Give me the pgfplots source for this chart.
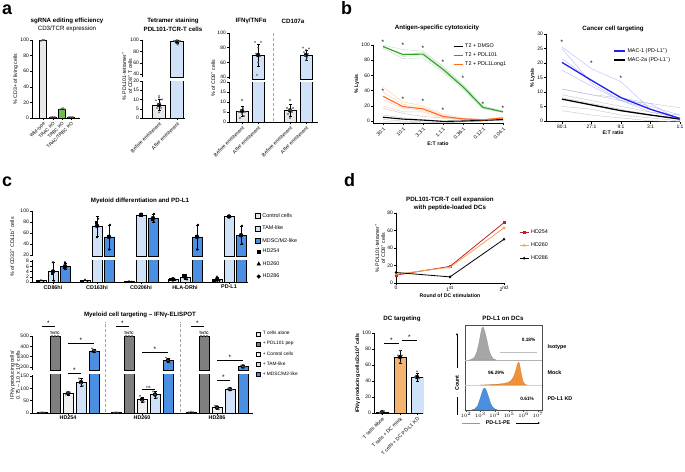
\documentclass[border=0pt]{standalone}
\usepackage{fontspec}
\setmainfont{Liberation Sans}
\usepackage{pgfplots}
\pgfplotsset{compat=1.18}
\usetikzlibrary{arrows.meta}

\newcommand{\tk}{\fontsize{5}{6}\selectfont}
\newcommand{\lab}{\fontsize{5.2}{6}\selectfont}
\newcommand{\ttl}{\fontsize{6.2}{7}\selectfont\bfseries}
\newcommand{\sbt}{\fontsize{6.2}{7}\selectfont}
\newcommand{\pl}{\fontsize{18}{18}\selectfont\bfseries}
\newcommand{\strf}{\fontsize{6.5}{6.5}\selectfont}
\newcommand{\legf}{\fontsize{5.4}{6}\selectfont}

\definecolor{lgrey}{HTML}{E8E8E8}
\definecolor{ltblue}{HTML}{CFE2F7}
\definecolor{mdsc}{HTML}{4B8FE3}
\definecolor{pdl}{HTML}{7F7F7F}
\definecolor{grn}{HTML}{33A02C}
\definecolor{org}{HTML}{FF6A1F}
\definecolor{kogreen}{HTML}{6CC04A}
\definecolor{dred}{HTML}{BE1E2D}
\definecolor{dorg}{HTML}{F5A54A}
\definecolor{mock}{HTML}{F2B46E}
\definecolor{histo}{HTML}{F0913A}
\definecolor{isog}{HTML}{A6A6A6}
\definecolor{kdb}{HTML}{4A8FE0}
\definecolor{macblue}{HTML}{2020F0}

\pgfplotsset{
 base/.style={scale only axis, anchor=south west, axis lines=left,
   axis line style={-, line width=0.6bp},
   every tick/.style={black, line width=0.5bp}, major tick length=2bp, tick align=outside,
   tick label style={font=\tk, inner sep=1bp}, label style={font=\lab},
   clip mode=individual, /pgf/number format/assume math mode=true,
   ylabel style={inner sep=1bp}, xlabel style={inner sep=1bp}},
 topseg/.style={scale only axis, anchor=south west, axis y line=left, hide x axis,
   axis line style={-, line width=0.6bp},
   every tick/.style={black, line width=0.5bp}, major tick length=2bp, tick align=outside,
   tick label style={font=\tk, inner sep=1bp}, label style={font=\lab},
   clip mode=individual, /pgf/number format/assume math mode=true,
   restrict y to domain=#1:100000},
 mybar/.style={ybar, bar width=#1, bar shift=0pt, draw=black, line width=0.5bp},
 dots/.style={only marks, mark=o, mark size=0.8bp, mark options={draw=black!65, line width=0.3bp, fill=white}},
 err/.style={only marks, mark=none, error bars/.cd, y dir=both, y explicit,
   error bar style={line width=0.4bp, black}, error mark options={rotate=90, mark size=1.5bp, line width=0.4bp, black}},
 thinl/.style={line width=0.35bp},
 sqleg/.style={area legend, draw=black, line width=0.5bp, legend image code/.code={\draw[##1] (0bp,-2.4bp) rectangle (4.8bp,2.4bp);}},
 sqlegs/.style={area legend, draw=black, line width=0.5bp, legend image code/.code={\draw[##1] (0bp,-2bp) rectangle (4bp,2bp);}},
}

% ---------- data macros ----------
\newcommand{\aTwoData}{
 \addplot[mybar=13, fill=lgrey] coordinates {(17,7)};
 \addplot[mybar=13, fill=ltblue] coordinates {(35,97)};
 \addplot[err] coordinates {(17,7) +- (0,3) (35,97) +- (0,3)};
 \addplot[dots] coordinates {(17,3)(15,5.5)(19,5.5)(16,7.5)(18,8)(14,9.5)(20,10)(17,11)(17,12)
   (32,99)(35,99)(38,99)(33,98)(37,97)(35,93)(36,92)};
}
\newcommand{\aThreeData}{
 \addplot[mybar=12, fill=lgrey] coordinates {(13,5.5)};
 \addplot[mybar=12, fill=ltblue] coordinates {(29,70)};
 \addplot[mybar=12, fill=lgrey] coordinates {(61,5.8)};
 \addplot[mybar=12, fill=ltblue] coordinates {(77,70)};
 \addplot[err] coordinates {(13,5.5) +- (0,2.5) (29,70) +- (0,15) (61,5.8) +- (0,3) (77,70) +- (0,7)};
 \addplot[dots] coordinates {(11,2)(15,3)(13,4)(10,5)(16,5)(12,6)(14,7)(13,11)
   (26,88)(32,88)(29,80)(27,72)(31,68)(29,60)(28,43)
   (61,2)(59,4)(63,5)(60,6)(62,6)(58,7)(64,7)(61,11)
   (74,80)(80,79)(77,77)(75,74)(79,72)(76,69)(78,66)(77,63)};
}
\newcommand{\cOneData}{
 \addplot[mybar=10, fill=lgrey] coordinates {(9,0.5)(53,0.5)(97,0.2)(141,1)(185,1)};
 \addplot[mybar=10, fill=ltblue] coordinates {(21,4)(65,73)(109,93)(153,2)(197,90)};
 \addplot[mybar=10, fill=mdsc] coordinates {(33,6)(77,53)(121,87)(165,53)(209,56)};
 \addplot[err] coordinates {(21,4) +- (0,3.5) (65,73) +- (0,18) (109,93) +- (0,2) (153,2) +- (0,0.8) (197,90) +- (0,1.5)
   (33,6) +- (0,1.2) (77,53) +- (0,22) (121,87) +- (0,7.5) (165,53) +- (0,22) (209,56) +- (0,16)
   (141,1) +- (0,0.4) (185,1) +- (0,1)};
 \addplot[only marks, mark=square*, mark size=0.9bp, black] coordinates {(6.5,0.3)(50.5,0.2)(94.5,0.1)(138.5,1.2)(182.5,0.5)
   (20,3.5)(64,80)(108,93)(151.5,2.5)(196,90)(32,5.5)(76,55)(120,85)(164,55)(208,55)};
 \addplot[only marks, mark=triangle*, mark size=1.1bp, black] coordinates {(9,0.6)(53,0.8)(97,0.2)(141,1.3)(185,2)
   (21,7.5)(65,52)(110,92)(153,2.5)(198,89)(33,7.5)(77,30)(122,80)(165,30)(210,40)};
 \addplot[only marks, mark=*, mark size=0.9bp, black] coordinates {(11.5,0.4)(55.5,0.4)(99.5,0.1)(143.5,0.8)(187.5,0.5)
   (22,0.5)(66,86)(110,95)(155,1)(198,91)(34,5.5)(78,75)(122,95)(166,75)(210,73)};
}
\newcommand{\cTwoData}{
 \addplot[mybar=10, fill=lgrey] coordinates {(10,3)(84,3)(159,5)};
 \addplot[mybar=10, fill=pdl] coordinates {(23,500)(97,500)(172,500)};
 \addplot[mybar=10, fill=lgrey!60] coordinates {(36,80)(110,55)(185,22)};
 \addplot[mybar=10, fill=ltblue] coordinates {(49,125)(123,75)(198,97)};
 \addplot[mybar=10, fill=mdsc] coordinates {(62,355)(136,265)(211,205)};
 \addplot[err] coordinates {(36,80) +- (0,6) (49,125) +- (0,15) (62,355) +- (0,15)
   (110,55) +- (0,10) (123,75) +- (0,14) (136,265) +- (0,22)
   (185,22) +- (0,6) (198,97) +- (0,3) (211,205) +- (0,8)};
 \addplot[dots] coordinates {(8,2)(10,4)(12,3)(82,2)(84,4)(86,3)(157,4)(159,6)(161,5)
   (20,500)(23,500)(26,500)(94,500)(97,500)(100,500)(169,500)(172,500)(175,500)
   (34,75)(36,82)(38,85)(108,70)(110,50)(112,45)(183,30)(185,22)(187,15)
   (47,140)(49,120)(51,110)(121,88)(123,75)(125,60)(196,100)(198,97)(200,95)
   (60,380)(62,360)(64,350)(134,290)(136,265)(138,240)(209,215)(211,205)(213,200)};
}

\begin{document}
\begin{tikzpicture}
\useasboundingbox (0,0) rectangle (685bp,-472bp);

% panel letters
\node[font=\pl, anchor=base west, inner sep=0] at (2bp,-14bp) {a};
\node[font=\pl, anchor=base west, inner sep=0] at (341bp,-14bp) {b};
\node[font=\pl, anchor=base west, inner sep=0] at (2bp,-186bp) {c};
\node[font=\pl, anchor=base west, inner sep=0] at (344bp,-186bp) {d};

% ================= a1
\node[font=\ttl] at (67bp,-21bp) {sgRNA editing efficiency};
\node[font=\sbt] at (67bp,-29bp) {CD3/TCR expression};
\begin{axis}[base, at={(32bp,-118bp)}, width=48bp, height=78bp, xmin=0, xmax=48, ymin=0, ymax=100,
  ytick={0,20,...,100}, xtick={11,21,30,39}, xticklabels={Wild-type,TRAC KO,TRBC KO,TRAC/TRBC KO},
  xticklabel style={rotate=45, anchor=north east, font=\fontsize{4.7}{5}\selectfont}, ylabel={\% CD3+ of living cells}]
 \addplot[mybar=7, fill=lgrey] coordinates {(11,100)(21,1)(39,1)};
 \addplot[mybar=7, fill=kogreen] coordinates {(30,11)};
 \addplot[dots] coordinates {(9,99)(10.5,100)(12,100)(13,100.5)(19,1)(20.5,1)(22,1)(23,1)
   (28,11)(29.5,12)(31,12.5)(32.5,11.5)(37,1)(38.5,1.5)(40,1)(41,1)};
\end{axis}

% ================= a2
\node[font=\ttl] at (173bp,-21bp) {Tetramer staining};
\node[font=\ttl] at (173bp,-29bp) {PDL101-TCR-T cells};
\node[font=\lab, rotate=90, align=center] at (127bp,-76bp) {\% PDL101-tetramer\textsuperscript{+}\\of CD8\textsuperscript{+} T cells};
\begin{axis}[topseg=35, at={(142bp,-77bp)}, width=43bp, height=37bp, xmin=0, xmax=43, ymin=35, ymax=100,
  ytick={40,60,80,100}]
 \aTwoData
\end{axis}
\begin{axis}[base, at={(142bp,-118bp)}, width=43bp, height=37bp, xmin=0, xmax=43, ymin=0, ymax=20,
  ytick={0,5,...,20}, xtick={17,35}, xticklabels={Before enrichment,After enrichment},
  xticklabel style={rotate=45, anchor=north east}]
 \aTwoData
\end{axis}

% ================= a3
\node[font=\ttl] at (251bp,-21bp) {IFNγ/TNFα};
\node[font=\ttl] at (293bp,-21bp) {CD107a};
\node[font=\lab, rotate=90] at (213bp,-78bp) {\% of CD8\textsuperscript{+} cells};
\begin{axis}[topseg=37.3, at={(229bp,-79bp)}, width=89bp, height=46bp, xmin=0, xmax=89, ymin=37.3, ymax=100,
  ytick={40,60,80,100}]
 \aThreeData
\end{axis}
\begin{axis}[base, at={(229bp,-122bp)}, width=89bp, height=40bp, xmin=0, xmax=89, ymin=0, ymax=20,
  ytick={0,5,...,20}, xtick={13,29,61,77},
  xticklabels={Before enrichment,After enrichment,Before enrichment,After enrichment},
  xticklabel style={rotate=45, anchor=north east}]
 \aThreeData
\end{axis}
\draw[densely dashed, black!35, line width=0.4bp] (273bp,-121bp) -- (273bp,-33bp);

% ================= b1
\node[font=\ttl] at (437bp,-28bp) {Antigen-specific cytotoxicity};
\begin{axis}[base, at={(373bp,-123.3bp)}, width=130bp, height=78.3bp, xmin=-0.5, xmax=6, ymin=-3, ymax=100,
  ytick={0,20,...,100}, xtick={0,...,6}, xticklabels={30:1,10:1,3.3:1,1.1:1,0.36:1,0.12:1,0.04:1},
  xticklabel style={rotate=45, anchor=north east}, xlabel={\textbf{E:T ratio}}, ylabel={\textbf{\% Lysis}},
  legend style={draw=none, fill=none, font=\legf, at={(0.615,1.04)}, anchor=north west, inner sep=0pt, row sep=-0.5bp},
  legend cell align=left, legend image code/.code={\draw[#1] (0bp,0bp) -- (9bp,0bp);}]
 \addlegendimage{black, line width=1.1bp}\addlegendentry{T2 + DMSO}
 \addlegendimage{grn, line width=1.1bp}\addlegendentry{T2 + PDL101}
 \addlegendimage{org, line width=1.1bp}\addlegendentry{T2 + PDL1Long1}
 \addplot[thinl, black!25, forget plot] coordinates {(0,17)(1,10)(2,6)(3,4)(4,3)(5,2)(6,5)};
 \addplot[thinl, black!25, forget plot] coordinates {(0,8)(1,4)(2,2)(3,0)(4,0)(5,1)(6,2)};
 \addplot[thinl, black!25, forget plot] coordinates {(0,2)(1,0)(2,-1)(3,-2.5)(4,-1)(5,0)(6,1)};
 \addplot[thinl, black!25, forget plot] coordinates {(0,-1)(1,-1.5)(2,-2)(3,-2)(4,-1)(5,0)(6,1)};
 \addplot[thinl, org!40, forget plot] coordinates {(0,45)(1,25)(2,20)(3,9)(4,4)(5,2)(6,5)};
 \addplot[thinl, org!40, forget plot] coordinates {(0,38)(1,22)(2,18)(3,7)(4,3)(5,2)(6,4)};
 \addplot[thinl, org!40, forget plot] coordinates {(0,28)(1,17)(2,14)(3,5)(4,2)(5,1)(6,3)};
 \addplot[thinl, org!40, forget plot] coordinates {(0,20)(1,12)(2,12)(3,3)(4,2)(5,1)(6,4)};
 \addplot[thinl, grn!35, forget plot] coordinates {(0,100)(1,94)(2,92)(3,72)(4,48)(5,20)(6,13)};
 \addplot[thinl, grn!35, forget plot] coordinates {(0,99)(1,85)(2,86)(3,66)(4,44)(5,17)(6,11)};
 \addplot[thinl, grn!35, forget plot] coordinates {(0,97)(1,88)(2,90)(3,70)(4,47)(5,18)(6,13)};
 \addplot[thinl, grn!35, forget plot] coordinates {(0,96)(1,82)(2,83)(3,64)(4,42)(5,16)(6,12)};
 \addplot[black, line width=1.1bp, forget plot] coordinates {(0,5)(1,2.5)(2,1.2)(3,-0.5)(4,0)(5,0.8)(6,2)};
 \addplot[org, line width=1.1bp, forget plot] coordinates {(0,32.5)(1,19)(2,16)(3,6)(4,2.8)(5,1.5)(6,4)};
 \addplot[grn, line width=1.1bp, forget plot] coordinates {(0,98)(1,87.5)(2,88)(3,68)(4,45)(5,18)(6,12)};
 \node[font=\strf, inner sep=0] at (axis cs:0,104) {*};
 \node[font=\strf, inner sep=0] at (axis cs:1,99) {*};
 \node[font=\strf, inner sep=0] at (axis cs:2,96) {*};
 \node[font=\strf, inner sep=0] at (axis cs:3,77) {*};
 \node[font=\strf, inner sep=0] at (axis cs:4,56) {*};
 \node[font=\strf, inner sep=0] at (axis cs:5,22) {*};
 \node[font=\strf, inner sep=0] at (axis cs:6,17) {*};
 \node[font=\strf, inner sep=0] at (axis cs:0,39) {*};
 \node[font=\strf, inner sep=0] at (axis cs:1,28) {*};
 \node[font=\strf, inner sep=0] at (axis cs:2,25.5) {*};
 \node[font=\strf, inner sep=0] at (axis cs:3,14) {*};
\end{axis}

% ================= b2
\node[font=\ttl] at (613bp,-29bp) {Cancer cell targeting};
\begin{axis}[base, at={(546bp,-121.7bp)}, width=134bp, height=87.7bp, xmin=-0.54, xmax=4, ymin=-0.3, ymax=30,
  ytick={0,5,...,30}, xtick={0,...,4}, xticklabels={80:1,27:1,9:1,3:1,1:1},
  xlabel={\textbf{E:T ratio}}, ylabel={\textbf{\% Lysis}},
  legend style={draw=none, fill=none, font=\legf, at={(0.5,0.863)}, anchor=north west, inner sep=0pt, row sep=-0.5bp},
  legend cell align=left, legend image code/.code={\draw[#1] (0bp,0bp) -- (11bp,0bp);}]
 \addlegendimage{macblue, line width=1.3bp}\addlegendentry{MAC-1 (PD-L1\textsuperscript{+})}
 \addlegendimage{black, line width=1.3bp}\addlegendentry{MAC-2a (PD-L1\textsuperscript{−})}
 \addplot[thinl, black!25, forget plot] coordinates {(0,11)(1,9)(2,7)(3,6)(4,4.5)};
 \addplot[thinl, black!25, forget plot] coordinates {(0,9)(1,7)(2,5)(3,3)(4,2)};
 \addplot[thinl, black!25, forget plot] coordinates {(0,8)(1,6)(2,4)(3,2)(4,1)};
 \addplot[thinl, black!25, forget plot] coordinates {(0,5)(1,4)(2,2)(3,1)(4,0)};
 \addplot[thinl, black!25, forget plot] coordinates {(0,3.5)(1,2)(2,1)(3,0)(4,-0.3)};
 \addplot[thinl, macblue!35, forget plot] coordinates {(0,25.5)(1,18)(2,13.5)(3,4)(4,1)};
 \addplot[thinl, macblue!35, forget plot] coordinates {(0,25)(1,13)(2,7)(3,3)(4,1)};
 \addplot[thinl, macblue!35, forget plot] coordinates {(0,21.5)(1,14)(2,8)(3,5)(4,2)};
 \addplot[thinl, macblue!35, forget plot] coordinates {(0,17.5)(1,12)(2,7)(3,4)(4,1)};
 \addplot[thinl, macblue!35, forget plot] coordinates {(0,11)(1,9)(2,8)(3,6)(4,0)};
 \addplot[black, line width=1.3bp, forget plot] coordinates {(0,7.5)(1,5.5)(2,3.5)(3,2)(4,0.6)};
 \addplot[macblue, line width=1.3bp, forget plot] coordinates {(0,20.2)(1,14)(2,8)(3,4)(4,0.8)};
 \node[font=\strf, inner sep=0] at (axis cs:0,27.3) {*};
 \node[font=\strf, inner sep=0] at (axis cs:1,19.9) {*};
 \node[font=\strf, inner sep=0] at (axis cs:2,14.7) {*};
\end{axis}

% ================= c1
\node[font=\ttl] at (140bp,-201bp) {Myeloid differentiation and PD-L1};
\node[font=\lab, rotate=90] at (12bp,-247bp) {\% of CD33\textsuperscript{+} CD11b\textsuperscript{+} cells};
\begin{axis}[topseg=18.2, at={(32bp,-256bp)}, width=216bp, height=45bp, xmin=0, xmax=216, ymin=18.2, ymax=100,
  ytick={20,40,...,100},
  legend style={draw=none, fill=none, font=\legf, at={(1.032,1.0)}, anchor=north west, inner sep=0pt, row sep=3.2bp},
  legend cell align=left]
 \addlegendimage{sqleg, fill=lgrey}\addlegendentry{Control cells}
 \addlegendimage{sqleg, fill=ltblue}\addlegendentry{TAM-like}
 \addlegendimage{sqleg, fill=mdsc}\addlegendentry{MDSC/M2-like}
 \pgfplotsset{every axis plot/.append style={forget plot}}
 \cOneData
\end{axis}
\begin{axis}[base, at={(32bp,-282bp)}, width=216bp, height=22bp, xmin=0, xmax=216, ymin=0, ymax=8.4,
  ytick={0,2,...,8}, xtick={21,65,109,153,197},
  xticklabels={\textbf{CD86hi},\textbf{CD163hi},\textbf{CD206hi},\textbf{HLA-DRhi},\textbf{PD-L1}},
  xticklabel style={font=\legf},
  legend style={draw=none, fill=none, font=\legf, at={(1.04,1.6)}, anchor=north west, inner sep=0pt, row sep=3.2bp},
  legend cell align=left]
 \addlegendimage{only marks, mark=square*, mark size=1.8bp, black}\addlegendentry{HD254}
 \addlegendimage{only marks, mark=triangle*, mark size=2.1bp, black}\addlegendentry{HD260}
 \addlegendimage{only marks, mark=*, mark size=1.9bp, black}\addlegendentry{HD286}
 \pgfplotsset{every axis plot/.append style={forget plot}}
 \cOneData
\end{axis}

% ================= c2
\node[font=\ttl] at (140bp,-315bp) {Myeloid cell targeting – IFNγ-ELISPOT};
\node[font=\lab, rotate=90, align=center] at (15bp,-375bp) {IFNγ producing cells/\\0.75 – 1.0 x 10\textsuperscript{5} cells};
\begin{axis}[topseg=171, at={(32bp,-370bp)}, width=221bp, height=34bp, xmin=0, xmax=221, ymin=171, ymax=500,
  ytick={200,300,400,500},
  legend style={draw=none, fill=none, font=\fontsize{4.8}{5.5}\selectfont, at={(1.014,1.2)}, anchor=north west, inner sep=0pt, row sep=1.2bp},
  legend cell align=left]
 \addlegendimage{sqlegs, fill=lgrey}\addlegendentry{T cells alone}
 \addlegendimage{sqlegs, fill=pdl}\addlegendentry{+ PDL101 pep}
 \addlegendimage{sqlegs, fill=lgrey!60}\addlegendentry{+ Control cells}
 \addlegendimage{sqlegs, fill=ltblue}\addlegendentry{+ TAM-like}
 \addlegendimage{sqlegs, fill=mdsc}\addlegendentry{+ MDSC/M2-like}
 \pgfplotsset{every axis plot/.append style={forget plot}}
 \cTwoData
 \draw[line width=0.5bp] (axis cs:10,597) -- (axis cs:23,597);
 \node[font=\strf, anchor=south, inner sep=0.3bp] at (axis cs:16.5,597) {*};
 \draw[line width=0.5bp] (axis cs:84,597) -- (axis cs:97,597);
 \node[font=\strf, anchor=south, inner sep=0.3bp] at (axis cs:90.5,597) {*};
 \draw[line width=0.5bp] (axis cs:159,597) -- (axis cs:172,597);
 \node[font=\strf, anchor=south, inner sep=0.3bp] at (axis cs:165.5,597) {*};
 \node[font=\fontsize{3.6}{4}\selectfont\bfseries, anchor=south, inner sep=0.5bp] at (axis cs:23,503) {TNTC};
 \node[font=\fontsize{3.6}{4}\selectfont\bfseries, anchor=south, inner sep=0.5bp] at (axis cs:97,503) {TNTC};
 \node[font=\fontsize{3.6}{4}\selectfont\bfseries, anchor=south, inner sep=0.5bp] at (axis cs:172,503) {TNTC};
 \draw[line width=0.5bp] (axis cs:36,432) -- (axis cs:62,432);
 \node[font=\strf, anchor=south, inner sep=0.3bp] at (axis cs:49,432) {*};
 \draw[line width=0.5bp] (axis cs:110,345) -- (axis cs:136,345);
 \node[font=\strf, anchor=south, inner sep=0.3bp] at (axis cs:123,345) {*};
 \draw[line width=0.5bp] (axis cs:185,268) -- (axis cs:211,268);
 \node[font=\strf, anchor=south, inner sep=0.3bp] at (axis cs:198,268) {*};
\end{axis}
\begin{axis}[base, at={(32bp,-413bp)}, width=221bp, height=38.2bp, xmin=0, xmax=221, ymin=0, ymax=155,
  ytick={0,50,100,150}, xtick={36,110,185},
  xticklabels={\textbf{HD254},\textbf{HD260},\textbf{HD286}}, xticklabel style={font=\legf}]
 \cTwoData
 \draw[line width=0.5bp] (axis cs:36,163) -- (axis cs:49,163);
 \node[font=\strf, anchor=south, inner sep=0.3bp] at (axis cs:42.5,163) {*};
 \draw[line width=0.5bp] (axis cs:110,97) -- (axis cs:123,97);
 \node[font=\fontsize{4}{4}\selectfont, anchor=south, inner sep=0.5bp] at (axis cs:116.5,97) {ns};
 \draw[line width=0.5bp] (axis cs:185,134) -- (axis cs:198,134);
 \node[font=\strf, anchor=south, inner sep=0.3bp] at (axis cs:191.5,134) {*};
\end{axis}
\draw[densely dashed, black!35, line width=0.4bp] (105bp,-412bp) -- (105bp,-322bp);
\draw[densely dashed, black!35, line width=0.4bp] (180bp,-412bp) -- (180bp,-322bp);

% ================= d1
\node[font=\ttl] at (450bp,-200bp) {PDL101-TCR-T cell expansion};
\node[font=\ttl] at (450bp,-208bp) {with peptide-loaded DCs};
\begin{axis}[base, at={(396bp,-283bp)}, width=108bp, height=70bp, xmin=0, xmax=2, ymin=0, ymax=80,
  ytick={0,20,...,80}, xtick={0,1,2}, xticklabels={0,1\textsuperscript{st},2\textsuperscript{nd}},
  xlabel={\textbf{Round of DC stimulation}},
  ylabel={\% PDL101-tetramer\textsuperscript{+}\\of CD8\textsuperscript{+} cells}, ylabel style={align=center},
  legend style={draw=none, fill=none, font=\legf, at={(1.14,0.786)}, anchor=north west, inner sep=0pt, row sep=3.5bp},
  legend cell align=left,
  legend image code/.code={\draw[mark repeat=2, mark phase=2, #1] plot coordinates {(0bp,0bp)(4.5bp,0bp)(9bp,0bp)};}]
 \addplot[dred, line width=0.8bp, mark=square*, mark size=0.9bp] coordinates {(0,9)(1,19)(2,69)};
 \addlegendentry{HD254}
 \addplot[dorg, line width=0.8bp, mark=triangle*, mark size=1.1bp] coordinates {(0,10)(1,18)(2,63)};
 \addlegendentry{HD260}
 \addplot[black, line width=0.8bp, mark=*, mark size=0.9bp] coordinates {(0,12)(1,7)(2,50)};
 \addlegendentry{HD286}
\end{axis}

% ================= d2
\node[font=\ttl] at (402bp,-319bp) {DC targeting};
\begin{axis}[base, at={(374bp,-413bp)}, width=49bp, height=80bp, xmin=0, xmax=49, ymin=0, ymax=100,
  ytick={0,20,...,100}, xtick={8,26,43},
  xticklabels={T cells alone,T cells + DC mock,T cells + DC PD-L1 KD},
  xticklabel style={rotate=45, anchor=north east},
  ylabel={\textbf{IFNγ producing cells/2x10\textsuperscript{4} cells}}]
 \addplot[mybar=12, fill=lgrey] coordinates {(8,1)};
 \addplot[mybar=12, fill=mock] coordinates {(26,70)};
 \addplot[mybar=12, fill=ltblue] coordinates {(43,45)};
 \addplot[err] coordinates {(8,1) +- (0,1) (26,70) +- (0,8) (43,45) +- (0,5)};
 \addplot[dots] coordinates {(6,0)(8,1)(10,2.5)(26,78)(24,72)(28,72)(26,63)(43,52)(41,45)(45,43)};
 \draw[line width=0.5bp] (axis cs:10,87.5) -- (axis cs:25,87.5);
 \node[font=\strf, anchor=south, inner sep=0.3bp] at (axis cs:17.5,87.5) {*};
 \draw[line width=0.5bp] (axis cs:28,91) -- (axis cs:43,91);
 \node[font=\strf, anchor=south, inner sep=0.3bp] at (axis cs:35.5,91) {*};
\end{axis}

% ================= d3
\node[font=\ttl] at (503bp,-318bp) {PD-L1 on DCs};
\begin{axis}[scale only axis, anchor=south west, at={(465bp,-410bp)}, width=77bp, height=85bp,
  xmin=1.93, xmax=7.28, ymin=0, ymax=85, axis line style={line width=0.5bp, black!70},
  ytick=\empty, xtick={2,...,7}, xticklabels={$10^2$,$10^3$,$10^4$,$10^5$,$10^6$,$10^7$},
  tick label style={font=\fontsize{3.6}{4}\selectfont, inner sep=0.8bp}, major tick length=1.5bp,
  tick align=outside, xtick pos=bottom, every tick/.style={black!70, line width=0.4bp}, clip mode=individual]
 \draw[black!30, line width=0.3bp] (axis cs:1.93,50) -- (axis cs:7.28,50);
 \draw[histo!50, line width=0.3bp] (axis cs:1.93,25) -- (axis cs:7.28,25);
 \addplot[fill=isog, draw=isog!80!black, line width=0.2bp] coordinates {(2.2,50)(2.4,50.5)(2.6,53)(2.75,58)(2.9,67)(3.0,75)(3.1,82)(3.2,83)(3.3,79)(3.45,70)(3.6,60)(3.75,54)(3.9,51)(4.1,50)} -- cycle;
 \addplot[fill=histo, draw=histo!80!black, line width=0.2bp] coordinates {(3.0,25)(3.6,25.3)(4.2,25.8)(4.6,26.5)(4.9,27.5)(5.1,29)(5.3,33)(5.45,39)(5.55,45)(5.65,48)(5.72,46)(5.82,38)(5.95,29)(6.1,25.5)(6.25,25)} -- cycle;
 \addplot[fill=kdb, draw=kdb!80!black, line width=0.2bp] coordinates {(2.4,0)(2.6,1)(2.8,4)(2.95,10)(3.1,17)(3.2,21)(3.3,22)(3.4,20)(3.55,14)(3.7,7)(3.85,3)(4.0,1)(4.2,0)} -- cycle;
 \draw[black!25, line width=0.9bp] (axis cs:4.36,58) -- (axis cs:6.93,58);
 \node[font=\fontsize{4.8}{5}\selectfont\bfseries] at (axis cs:6.35,70) {0.18\%};
 \node[font=\fontsize{4.8}{5}\selectfont\bfseries] at (axis cs:4.1,37) {96.29\%};
 \node[font=\fontsize{4.8}{5}\selectfont\bfseries] at (axis cs:6.25,11) {0.61\%};
\end{axis}
\node[font=\legf\bfseries, anchor=west] at (544bp,-347bp) {Isotype};
\node[font=\legf\bfseries, anchor=west] at (544bp,-373bp) {Mock};
\node[font=\legf\bfseries, anchor=west] at (544bp,-399bp) {PD-L1 KD};
\node[font=\legf\bfseries, rotate=90] at (457bp,-383bp) {Count};
\draw[line width=0.4bp] (457bp,-415bp) -- (457bp,-397bp);
\draw[line width=0.4bp, -{Latex[length=2bp,width=2bp]}] (457bp,-368bp) -- (457bp,-333bp);
\node[font=\legf\bfseries] at (498bp,-423bp) {PD-L1-PE};
\draw[line width=0.4bp, black!40] (462bp,-423bp) -- (480bp,-423bp);
\draw[line width=0.4bp, -{Latex[length=2bp,width=2bp]}] (516bp,-423bp) -- (540bp,-423bp);

\end{tikzpicture}
\end{document}
